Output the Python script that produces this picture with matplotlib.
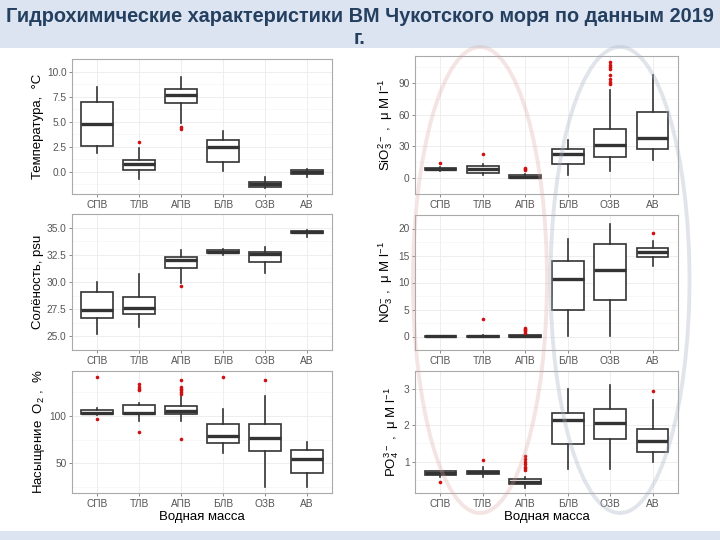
import matplotlib
matplotlib.use('Agg')
import matplotlib.pyplot as plt
from matplotlib.patches import Ellipse, Rectangle

plt.rcParams['font.family'] = ['Liberation Sans', 'DejaVu Sans']
plt.rcParams['mathtext.default'] = 'regular'

categories = ['СПВ', 'ТЛВ', 'АПВ', 'БЛВ', 'ОЗВ', 'АВ']

# температура
temp_lo = [1.9, -0.75, 4.9, 0.1, -1.65, -0.55]
temp_q1 = [2.6, 0.24, 6.9, 1.0, -1.5, -0.2]
temp_med = [4.8, 0.75, 7.7, 2.45, -1.2, 0.0]
temp_q3 = [7.0, 1.2, 8.3, 3.15, -0.96, 0.2]
temp_hi = [8.45, 2.4, 9.45, 4.05, -0.5, 0.3]
temp_out = [[], [2.95], [4.45, 4.25], [], [], []]

# солёность
sal_lo = [25.2, 25.85, 29.95, 32.5, 30.8, 34.15]
sal_q1 = [26.73, 27.09, 31.29, 32.68, 31.83, 34.46]
sal_med = [27.47, 27.65, 32.06, 32.8, 32.55, 34.61]
sal_q3 = [29.1, 28.63, 32.32, 32.96, 32.73, 34.72]
sal_hi = [30.03, 30.72, 32.91, 33.07, 33.22, 34.8]
sal_out = [[], [], [29.61], [], [], []]

# насыщение O2
ox_lo = [100.7, 94.4, 94.4, 60.5, 24.5, 24.5]
ox_q1 = [102.4, 101.7, 102.4, 71.3, 62.6, 39.5]
ox_med = [103.5, 103.5, 105.6, 78.3, 76.2, 54.2]
ox_q3 = [105.9, 111.2, 110.5, 91.6, 91.6, 64.0]
ox_hi = [108.4, 114.0, 120.6, 107.7, 120.6, 72.7]
ox_out = [[141.6, 97.2], [133.9, 131.1, 128.7, 126.9, 83.2],
          [138.1, 131.1, 128.7, 126.9, 125.2, 123.4, 75.2], [141.6], [138.1], []]

# силикаты
si_lo = [7.0, 2.9, -0.3, 2.9, 6.7, 17.0]
si_q1 = [7.9, 5.3, 0.3, 13.2, 19.6, 27.9]
si_med = [9.1, 8.8, 1.5, 22.6, 31.1, 37.8]
si_q3 = [9.7, 11.7, 2.6, 27.9, 46.0, 62.8]
si_hi = [10.3, 13.8, 3.5, 35.8, 83.0, 97.4]
si_out = [[14.7], [22.6], [9.4, 8.2, 7.3], [],
          [109.4, 107.0, 104.7, 103.5, 97.7, 93.5, 90.9, 89.4], []]

# нитраты
no_lo = [0.0, 0.0, 0.0, 0.1, 0.1, 13.1]
no_q1 = [0.0, 0.0, 0.0, 5.0, 6.74, 14.66]
no_med = [0.05, 0.05, 0.1, 10.67, 12.36, 15.6]
no_q3 = [0.12, 0.15, 0.2, 13.9, 17.2, 16.46]
no_hi = [0.15, 0.2, 0.3, 18.1, 20.8, 17.75]
no_out = [[], [3.15], [1.57, 1.4, 1.18, 0.96, 0.73, 0.55], [], [], [19.1]]

# фосфаты
po_lo = [0.58, 0.58, 0.27, 0.78, 0.78, 0.98]
po_q1 = [0.62, 0.65, 0.37, 1.49, 1.61, 1.255]
po_med = [0.685, 0.71, 0.44, 2.15, 2.05, 1.58]
po_q3 = [0.73, 0.75, 0.515, 2.35, 2.46, 1.89]
po_hi = [0.75, 0.85, 0.58, 2.99, 3.1, 2.71]
po_out = [[0.44], [1.05], [1.15, 1.08, 1.0, 0.92, 0.86, 0.81, 0.76], [], [], [2.95]]


def panel(rect, lo, q1, med, q3, hi, out, ylim, yticks, fmt, ylabel, xlabel=None):
    ax = fig.add_axes(rect)
    stats = []
    for i in range(len(categories)):
        stats.append(dict(whislo=lo[i], q1=q1[i], med=med[i], q3=q3[i],
                          whishi=hi[i], fliers=out[i], label=categories[i]))
    ax.bxp(stats, positions=range(1, 7), widths=0.75, patch_artist=True,
           showcaps=False,
           boxprops=dict(facecolor='white', edgecolor='#333333', lw=1.2),
           medianprops=dict(color='#333333', lw=2.4),
           whiskerprops=dict(color='#333333', lw=1.2),
           flierprops=dict(marker='o', markersize=2.6, markerfacecolor='#d01010',
                           markeredgecolor='none'))
    ax.set_xlim(0.4, 6.6)
    ax.set_ylim(*ylim)
    ax.set_yticks(yticks)
    ax.set_yticklabels([fmt % v for v in yticks])
    step = yticks[1] - yticks[0]
    minors = [yticks[0] - step / 2] + [v + step / 2 for v in yticks]
    ax.set_yticks(minors, minor=True)
    ax.tick_params(which='minor', length=0)
    ax.tick_params(which='major', length=2.5, width=0.6, color='#777777',
                   labelsize=7.3, labelcolor='#555555', pad=1.5)
    ax.grid(which='major', color='#ebebeb', lw=0.6)
    ax.grid(which='minor', axis='y', color='#f3f3f3', lw=0.4)
    ax.set_axisbelow(True)
    for s in ax.spines.values():
        s.set_color('#aaaaaa')
        s.set_linewidth(0.8)
    ax.set_ylabel(ylabel, fontsize=9.5, labelpad=2)
    if xlabel:
        ax.set_xlabel(xlabel, fontsize=9.5, labelpad=2)
    return ax


fig = plt.figure(figsize=(7.2, 5.4), dpi=100)

fig.add_artist(Rectangle((0, 1 - 48 / 540), 1, 48 / 540, transform=fig.transFigure,
                         facecolor='#dbe4f0', edgecolor='none', zorder=0))
fig.add_artist(Rectangle((0, 0), 1, 9 / 540, transform=fig.transFigure,
                         facecolor='#dbe4f0', edgecolor='none', zorder=0))
fig.text(0.5, 1 - 16 / 540, 'Гидрохимические характеристики ВМ Чукотского моря по данным 2019',
         ha='center', va='center', fontsize=14.3, fontweight='bold', color='#243f60')
fig.text(0.5, 1 - 38 / 540, 'г.', ha='center', va='center', fontsize=14.3,
         fontweight='bold', color='#243f60')

L, W = 72 / 720, 260 / 720
R, WR = 415 / 720, 263 / 720

ax1 = panel([L, 1 - 194 / 540, W, 135 / 540], temp_lo, temp_q1, temp_med, temp_q3,
            temp_hi, temp_out, (-2.2, 10.0), [0.0, 2.5, 5.0, 7.5, 10.0], '%.1f',
            'Температура,  °C')
ax2 = panel([L, 1 - 350 / 540, W, 136 / 540], sal_lo, sal_q1, sal_med, sal_q3,
            sal_hi, sal_out, (24.72, 35.28), [25.0, 27.5, 30.0, 32.5, 35.0], '%.1f',
            'Солёность, psu')
ax3 = panel([L, 1 - 493 / 540, W, 122 / 540], ox_lo, ox_q1, ox_med, ox_q3,
            ox_hi, ox_out, (18.6, 147.5), [50, 100], '%d',
            'Насыщение  O$_2$ ,  %', 'Водная масса')
ax4 = panel([R, 1 - 194 / 540, WR, 138 / 540], si_lo, si_q1, si_med, si_q3,
            si_hi, si_out, (-5.5, 115.5), [0, 30, 60, 90], '%d',
            'SiO$_3^{2-}$ ,  μ M l$^{-1}$')
ax5 = panel([R, 1 - 350 / 540, WR, 135 / 540], no_lo, no_q1, no_med, no_q3,
            no_hi, no_out, (-1.04, 21.84), [0, 5, 10, 15, 20], '%d',
            'NO$_3^{-}$ ,  μ M l$^{-1}$')
ax6 = panel([R, 1 - 493 / 540, WR, 122 / 540], po_lo, po_q1, po_med, po_q3,
            po_hi, po_out, (0.13, 3.24), [1, 2, 3], '%d',
            'PO$_4^{3-}$ ,  μ M l$^{-1}$', 'Водная масса')

# овалы поверх правых панелей
fig.add_artist(Ellipse((480 / 720, 1 - 280 / 540), 134 / 720, 466 / 540,
                       transform=fig.transFigure, fill=False, edgecolor='#d9a0a0',
                       lw=2.8, alpha=0.28, zorder=5))
fig.add_artist(Ellipse((620 / 720, 1 - 280 / 540), 139 / 720, 466 / 540,
                       transform=fig.transFigure, fill=False, edgecolor='#a9b4c6',
                       lw=2.8, alpha=0.35, zorder=5))

fig.savefig('out.png', dpi=100)
